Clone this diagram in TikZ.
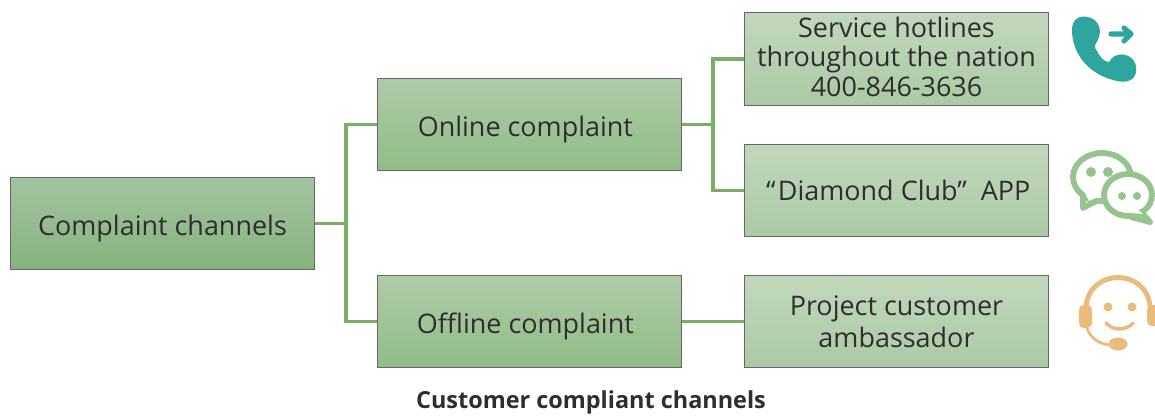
\documentclass[tikz,border=0pt]{standalone}
\usepackage{fontspec}
\setmainfont{Open Sans}
\definecolor{roottop}{HTML}{A3C3A0}
\definecolor{rootbottom}{HTML}{86B37D}
\definecolor{boxtop}{HTML}{AFCBA8}
\definecolor{boxbottom}{HTML}{90BC87}
\definecolor{leaftop}{HTML}{C1D7BC}
\definecolor{leafbottom}{HTML}{ABCAA5}
\definecolor{boxline}{HTML}{636B61}
\definecolor{linkgreen}{HTML}{7AAE62}
\definecolor{textdark}{HTML}{2E2E2E}
\definecolor{phoneteal}{HTML}{2FA59F}
\definecolor{chatgreen}{HTML}{97C48E}
\definecolor{headorange}{HTML}{EBBB7C}
\newcommand{\oneline}[2][-10.6pt]{\raisebox{#1}[0pt][0pt]{#2}}
\tikzset{
	channel/.style={draw=boxline, line width=1pt, top color=boxtop, bottom color=boxbottom,
		minimum width=9.12cm, minimum height=2.77cm, align=center, text=textdark,
		inner sep=0pt, font=\fontsize{23}{25}\selectfont},
	rootbox/.style={channel, top color=roottop, bottom color=rootbottom},
	leaf/.style={channel, top color=leaftop, bottom color=leafbottom},
	link/.style={draw=linkgreen, line width=2.6pt},
}
\begin{document}
\begin{tikzpicture}[x=.03cm,y=-.03cm]
\useasboundingbox (0,0) rectangle (1155,415);
% boxes
\node[rootbox] (root) at (162.5,223.5) {\oneline{Complaint channels}};
\node[channel] (online) at (529.5,124.5) {\oneline{\kern-7pt Online complaint}};
\node[channel] (offline) at (529.5,321.5) {\oneline{\kern-7pt Offline complaint}};
\node[leaf] (hotline) at (896.5,59) {\raisebox{0pt}[\dimexpr\height+3.4pt\relax]{\begin{tabular}{@{}c@{}}Service hotlines\\throughout the nation\\400-846-3636\end{tabular}}};
\node[leaf] (app) at (896.5,190.5) {\oneline[-8.2pt]{\kern 3pt“\kern 2pt Diamond Club”\kern 12pt APP}};
\node[leaf, font=\fontsize{23}{27.3}\selectfont] (ambassador) at (896.5,321.5) {Project customer\\ambassador};
\node[font=\fontsize{20}{22}\selectfont\bfseries, text=textdark] (caption) at (591,402.5) {Customer compliant channels};
% connectors
\coordinate (rootfork) at (346,223.5);
\coordinate (onlinefork) at (713,124.5);
\draw[link] (root.east) -- (rootfork) |- (online.west);
\draw[link] (rootfork) |- (offline.west);
\draw[link] (online.east) -- (onlinefork) |- (hotline.west);
\draw[link] (onlinefork) |- (app.west);
\draw[link] (offline.east) -- (ambassador.west);
% phone icon
\fill[phoneteal] (1072,30) .. controls (1072,15) and (1085,16) .. (1087,17)
	.. controls (1097,18) and (1102,28) .. (1099,37)
	.. controls (1097,44) and (1092,45) .. (1097,51)
	.. controls (1100,57) and (1104,62) .. (1109,62)
	.. controls (1114,53) and (1124,53) .. (1130,57)
	.. controls (1138,62) and (1138,75) .. (1132,79)
	.. controls (1127,83) and (1120,82) .. (1113,80)
	.. controls (1090,74) and (1072,55) .. (1072,30) -- cycle;
\draw[phoneteal, line width=4.4pt, line cap=round, line join=round]
	(1111,34) -- (1130,34) (1124,28) -- (1131,34) -- (1124,41);
% chat icon
\draw[chatgreen, line width=5pt, fill=white]
	(1102,177) ellipse (29 and 24);
\draw[chatgreen, line width=5pt, fill=white, line join=round]
	(1083,197) -- (1083,208) -- (1096,201) -- cycle;
\fill[white] (1085,193) -- (1098,197) -- (1089,201) -- cycle;
\fill[chatgreen] (1091,172) circle (5) (1108,172) circle (5);
\draw[chatgreen, line width=5pt, fill=white] (1128,195) ellipse (24 and 21);
\draw[chatgreen, line width=5pt, fill=white, line join=round]
	(1141,212) -- (1150,222) -- (1131,217) -- cycle;
\fill[white] (1136,208) -- (1143,214) -- (1130,213) -- cycle;
\fill[chatgreen] (1122,196) circle (4) (1137,196) circle (4);
% headset icon
\draw[headorange, line width=4.2pt] (1086,306) .. controls (1090,268) and (1146,268) .. (1150,306);
\fill[headorange, rounded corners=4pt] (1079,305) rectangle (1092,328);
\fill[headorange, rounded corners=4pt] (1147,305) rectangle (1160,326);
\fill[headorange] (1108,307) circle (4.5) (1132,307) circle (4.5);
\draw[headorange, line width=3pt, line cap=round] (1106,323) .. controls (1113,331) and (1126,331) .. (1133,323);
\draw[headorange, line width=2.4pt] (1087,328) .. controls (1090,338) and (1100,345) .. (1112,345);
\fill[headorange] (1118,344) ellipse (9.5 and 6.5);
\end{tikzpicture}
\end{document}
